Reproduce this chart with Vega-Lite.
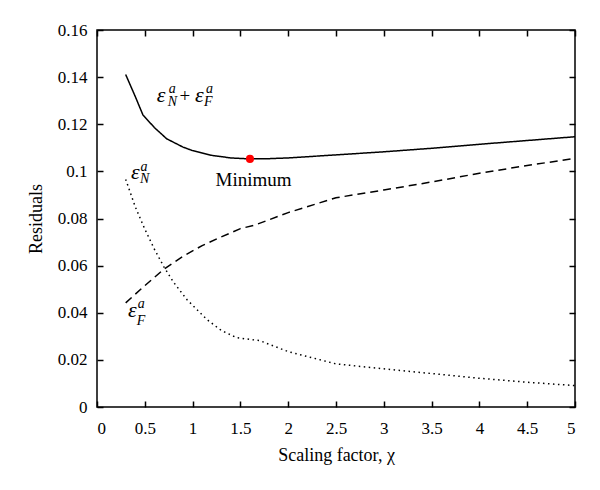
{
  "$schema": "https://vega.github.io/schema/vega-lite/v6.json",
  "autosize": {"type": "none"},
  "padding": {"left": 97, "top": 30, "right": 25, "bottom": 82},
  "width": 478,
  "height": 377,
  "background": "white",
  "config": {
    "view": {"stroke": "black", "strokeWidth": 1.5},
    "font": "Liberation Serif",
    "text": {"font": "Liberation Serif"},
    "axis": {
      "grid": false,
      "domain": false,
      "tickColor": "black",
      "tickWidth": 1.5,
      "tickSize": -6,
      "labelFont": "Liberation Serif",
      "labelFontSize": 17,
      "labelColor": "black",
      "titleFont": "Liberation Serif",
      "titleFontSize": 18,
      "titleFontWeight": "normal",
      "titleColor": "black"
    }
  },
  "datasets": {
    "curves": [
      {"x": 0.3, "y": 0.1411, "s": "total"},
      {"x": 0.4, "y": 0.1318, "s": "total"},
      {"x": 0.48, "y": 0.124, "s": "total"},
      {"x": 0.6, "y": 0.1186, "s": "total"},
      {"x": 0.73, "y": 0.1138, "s": "total"},
      {"x": 0.9, "y": 0.1103, "s": "total"},
      {"x": 1.0, "y": 0.1088, "s": "total"},
      {"x": 1.2, "y": 0.1068, "s": "total"},
      {"x": 1.4, "y": 0.1057, "s": "total"},
      {"x": 1.6, "y": 0.1053, "s": "total"},
      {"x": 1.8, "y": 0.1054, "s": "total"},
      {"x": 2.0, "y": 0.1057, "s": "total"},
      {"x": 2.5, "y": 0.1070, "s": "total"},
      {"x": 3.0, "y": 0.1083, "s": "total"},
      {"x": 3.5, "y": 0.1098, "s": "total"},
      {"x": 4.0, "y": 0.1115, "s": "total"},
      {"x": 4.5, "y": 0.1131, "s": "total"},
      {"x": 5.0, "y": 0.1147, "s": "total"},
      {"x": 0.3, "y": 0.0442, "s": "far"},
      {"x": 0.5, "y": 0.0515, "s": "far"},
      {"x": 0.7, "y": 0.0585, "s": "far"},
      {"x": 0.9, "y": 0.064, "s": "far"},
      {"x": 1.1, "y": 0.0685, "s": "far"},
      {"x": 1.3, "y": 0.0722, "s": "far"},
      {"x": 1.5, "y": 0.0757, "s": "far"},
      {"x": 1.65, "y": 0.0772, "s": "far"},
      {"x": 2.0, "y": 0.0825, "s": "far"},
      {"x": 2.5, "y": 0.0888, "s": "far"},
      {"x": 3.0, "y": 0.0921, "s": "far"},
      {"x": 3.5, "y": 0.0955, "s": "far"},
      {"x": 4.0, "y": 0.0992, "s": "far"},
      {"x": 4.5, "y": 0.1025, "s": "far"},
      {"x": 5.0, "y": 0.1055, "s": "far"},
      {"x": 0.3, "y": 0.0966, "s": "near"},
      {"x": 0.4, "y": 0.085, "s": "near"},
      {"x": 0.5, "y": 0.0755, "s": "near"},
      {"x": 0.6, "y": 0.067, "s": "near"},
      {"x": 0.7, "y": 0.0595, "s": "near"},
      {"x": 0.8, "y": 0.053, "s": "near"},
      {"x": 0.94, "y": 0.0456, "s": "near"},
      {"x": 1.15, "y": 0.0371, "s": "near"},
      {"x": 1.3, "y": 0.0325, "s": "near"},
      {"x": 1.46, "y": 0.0294, "s": "near"},
      {"x": 1.7, "y": 0.0282, "s": "near"},
      {"x": 2.0, "y": 0.0235, "s": "near"},
      {"x": 2.5, "y": 0.0183, "s": "near"},
      {"x": 3.0, "y": 0.0162, "s": "near"},
      {"x": 3.5, "y": 0.0142, "s": "near"},
      {"x": 4.0, "y": 0.0122, "s": "near"},
      {"x": 4.5, "y": 0.0105, "s": "near"},
      {"x": 5.0, "y": 0.0091, "s": "near"}
    ],
    "minimum": [{"x": 1.6, "y": 0.1053}],
    "labels": [
      {"x": 0.624, "y": 0.1294, "t": "ε", "r": "eps"},
      {"x": 0.740, "y": 0.1277, "t": "N", "r": "sub"},
      {"x": 0.750, "y": 0.1334, "t": "a", "r": "sup"},
      {"x": 0.920, "y": 0.1294, "t": "+", "r": "plus"},
      {"x": 1.025, "y": 0.1294, "t": "ε", "r": "eps"},
      {"x": 1.120, "y": 0.1277, "t": "F", "r": "sub"},
      {"x": 1.140, "y": 0.1334, "t": "a", "r": "sup"},
      {"x": 0.356, "y": 0.0966, "t": "ε", "r": "eps"},
      {"x": 0.450, "y": 0.0949, "t": "N", "r": "sub"},
      {"x": 0.455, "y": 0.1001, "t": "a", "r": "sup"},
      {"x": 0.324, "y": 0.0380, "t": "ε", "r": "eps"},
      {"x": 0.415, "y": 0.0350, "t": "F", "r": "sub"},
      {"x": 0.425, "y": 0.0422, "t": "a", "r": "sup"},
      {"x": 1.637, "y": 0.0937, "t": "Minimum", "r": "min"}
    ]
  },
  "resolve": {"axis": {"x": "independent", "y": "independent"}},
  "layer": [
    {
      "data": {"name": "curves"},
      "mark": {"type": "line", "color": "black", "strokeWidth": 1.5},
      "encoding": {
        "x": {"field": "x", "type": "quantitative", "scale": {"domain": [0, 5], "nice": false},
              "axis": {"orient": "bottom", "values": [0, 0.5, 1, 1.5, 2, 2.5, 3, 3.5, 4, 4.5, 5], "format": "~g", "labelPadding": 19, "title": "Scaling factor, χ", "titlePadding": 10}},
        "y": {"field": "y", "type": "quantitative", "scale": {"domain": [0, 0.16], "nice": false},
              "axis": {"orient": "left", "values": [0, 0.02, 0.04, 0.06, 0.08, 0.1, 0.12, 0.14, 0.16], "format": "~g", "labelPadding": 16, "title": "Residuals", "titlePadding": 12}},
        "strokeDash": {"field": "s", "type": "nominal", "scale": {"domain": ["total", "far", "near"], "range": [[1, 0], [8, 5], [1.5, 3.5]]}, "legend": null},
        "detail": {"field": "s"}
      }
    },
    {
      "data": {"name": "minimum"},
      "mark": {"type": "point", "filled": true, "color": "#ff0000", "size": 65, "opacity": 1},
      "encoding": {
        "x": {"field": "x", "type": "quantitative", "scale": {"domain": [0, 5], "nice": false},
              "axis": {"orient": "top", "values": [0, 0.5, 1, 1.5, 2, 2.5, 3, 3.5, 4, 4.5, 5], "labels": false, "title": null}},
        "y": {"field": "y", "type": "quantitative", "scale": {"domain": [0, 0.16], "nice": false},
              "axis": {"orient": "right", "values": [0, 0.02, 0.04, 0.06, 0.08, 0.1, 0.12, 0.14, 0.16], "labels": false, "title": null}}
      }
    },
    {
      "data": {"name": "labels"},
      "transform": [{"filter": "datum.r == 'eps'"}],
      "mark": {"type": "text", "align": "left", "baseline": "alphabetic", "fontSize": 22, "fontStyle": "italic", "color": "black"},
      "encoding": {
        "x": {"field": "x", "type": "quantitative", "axis": null},
        "y": {"field": "y", "type": "quantitative", "axis": null},
        "text": {"field": "t"}
      }
    },
    {
      "data": {"name": "labels"},
      "transform": [{"filter": "datum.r == 'sub' || datum.r == 'sup'"}],
      "mark": {"type": "text", "align": "left", "baseline": "alphabetic", "fontSize": 14, "fontStyle": "italic", "color": "black"},
      "encoding": {
        "x": {"field": "x", "type": "quantitative", "axis": null},
        "y": {"field": "y", "type": "quantitative", "axis": null},
        "text": {"field": "t"}
      }
    },
    {
      "data": {"name": "labels"},
      "transform": [{"filter": "datum.r == 'plus'"}],
      "mark": {"type": "text", "align": "center", "baseline": "alphabetic", "fontSize": 19, "color": "black"},
      "encoding": {
        "x": {"field": "x", "type": "quantitative", "axis": null},
        "y": {"field": "y", "type": "quantitative", "axis": null},
        "text": {"field": "t"}
      }
    },
    {
      "data": {"name": "labels"},
      "transform": [{"filter": "datum.r == 'min'"}],
      "mark": {"type": "text", "align": "center", "baseline": "alphabetic", "fontSize": 19, "color": "black"},
      "encoding": {
        "x": {"field": "x", "type": "quantitative", "axis": null},
        "y": {"field": "y", "type": "quantitative", "axis": null},
        "text": {"field": "t"}
      }
    }
  ]
}
